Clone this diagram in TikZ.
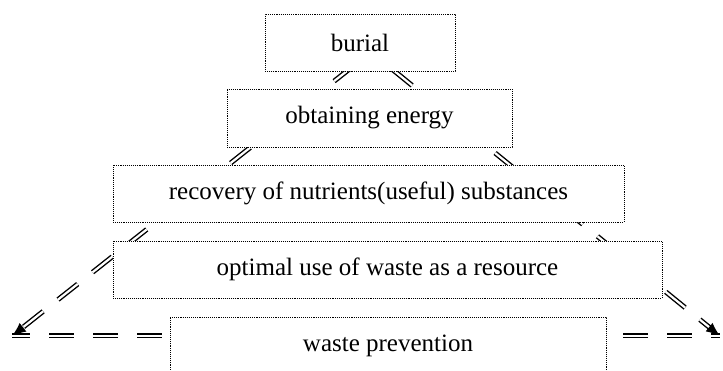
\documentclass[tikz,border=0pt]{standalone}
\usepackage{fontspec}
\setmainfont{Liberation Serif}
\usetikzlibrary{arrows.meta, backgrounds}

\begin{document}
\begin{tikzpicture}[x=1pt, y=-1pt,
    level/.style={draw, densely dotted, line width=0.9pt, fill=white, inner sep=0pt,
      font=\fontsize{25}{30}\selectfont},
    flow/.style={double, double distance=2.2pt, line width=1.4pt, dash pattern=on 25pt off 19pt},
    tip/.style={-{Latex[length=14pt,width=11pt]}}]
  \useasboundingbox (0,0) rectangle (723,371);
  \clip (0,0) rectangle (723,371);
  % the five levels, top to bottom
  \node [level, minimum width=190pt, minimum height=57pt] (burial) at (360,42.5) {burial};
  \node [level, minimum width=285pt, minimum height=58pt] (energy) at (369.5,118) {obtaining energy};
  \node [level, minimum width=511pt, minimum height=57pt] (recovery) at (368.5,193.5) {recovery of nutrients(useful) substances};
  \node [level, minimum width=549pt, minimum height=57pt] (optimal) at (387.5,269.5) {optimal use of waste as a resource};
  \node [level, minimum width=436pt, minimum height=58pt] (prevention) at (388,346) {waste prevention};
  \coordinate (apex) at (371,52);
  \coordinate (leftend) at (12,336);
  \coordinate (rightend) at (720,336);
  \begin{scope}[on background layer]
    \draw [flow, tip, dash phase=22pt] (apex) -- (leftend);
    \draw [flow, tip, dash phase=16pt] (apex) -- (rightend);
    \draw [flow, dash phase=7pt] (leftend) -- (prevention.west |- leftend);
    \draw [flow, dash phase=27pt] (prevention.east |- rightend) -- (rightend);
  \end{scope}
\end{tikzpicture}
\end{document}
